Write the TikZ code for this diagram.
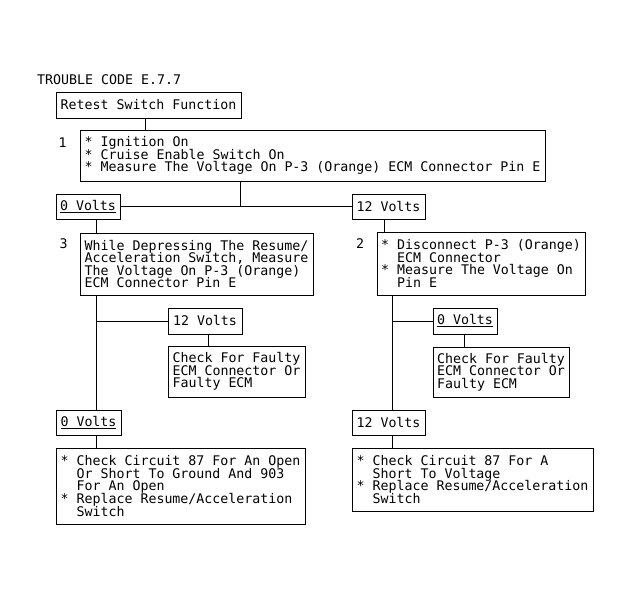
\documentclass[tikz,border=0pt]{standalone}
\usepackage{fontspec}
\newfontfamily\mono{DejaVu Sans Mono}
\newcommand\ind{\hphantom{**}}
\newcommand\uln[1]{\setbox0\hbox{#1}\rlap{\rule[-2.2pt]{\wd0}{0.9pt}}\box0}
\newcommand\monofont{\mono\fontsize{13.28}{12.6}\selectfont\lineskiplimit=-100pt\relax\lineskip=0pt\relax}
\begin{document}
\begin{tikzpicture}[x=1pt,y=-1pt,
  every node/.style={font=\monofont, inner sep=0pt, text=black},
  bx/.style={draw, line width=1pt, align=left},
  conn/.style={draw, line width=1pt}]
\useasboundingbox[fill=white] (0,0) rectangle (631,600);

% labels
\node[anchor=base west] (title) at (37,84) {TROUBLE CODE E.7.7};
\node[anchor=base west] (n1) at (58.5,147) {1};
\node[anchor=base west] (n3) at (59.5,248) {3};
\node[anchor=base west] (n2) at (356,248.5) {2};

% boxes
\node[bx, minimum width=185, minimum height=26] (retest) at (148.5,105) {Retest Switch Function};
\node[bx, minimum width=465, minimum height=51] (box1) at (312.5,155.5)
  {* Ignition On\\* Cruise Enable Switch On\\* Measure The Voltage On P-3 (Orange) ECM Connector Pin E};
\node[bx, minimum width=64, minimum height=25] (v0a) at (88,206.5) {\uln{0 Volts}};
\node[bx, minimum width=73, minimum height=25] (v12a) at (388.5,206.5) {12 Volts};
\node[bx, minimum width=233, minimum height=62] (box3) at (196.5,264)
  {While Depressing The Resume/\\Acceleration Switch, Measure\\The Voltage On P-3 (Orange)\\ECM Connector Pin E};
\node[bx, minimum width=208, minimum height=63] (box2) at (481,263.5)
  {* Disconnect P-3 (Orange)\\\ind ECM Connector\\* Measure The Voltage On\\\ind Pin E};
\node[bx, minimum width=74, minimum height=26] (v12b) at (205,321) {12 Volts};
\node[bx, minimum width=137, minimum height=51] (chkL) at (236.5,371.5)
  {Check For Faulty\\ECM Connector Or\\Faulty ECM};
\node[bx, minimum width=64, minimum height=26] (v0b) at (465,321) {\uln{0 Volts}};
\node[bx, minimum width=136, minimum height=50] (chkR) at (501,372)
  {Check For Faulty\\ECM Connector Or\\Faulty ECM};
\node[bx, minimum width=65, minimum height=25] (v0c) at (88.5,422.5) {\uln{0 Volts}};
\node[bx, minimum width=249, minimum height=76] (chkLL) at (180.5,486)
  {* Check Circuit 87 For An Open\\\ind Or Short To Ground And 903\\\ind For An Open\\* Replace Resume/Acceleration\\\ind Switch};
\node[bx, minimum width=73, minimum height=25] (v12c) at (388.5,422.5) {12 Volts};
\node[bx, minimum width=241, minimum height=63] (chkLR) at (472.5,479.5)
  {* Check Circuit 87 For A\\\ind Short To Voltage\\* Replace Resume/Acceleration\\\ind Switch};

% junction columns
\coordinate (cT) at (145,0);
\coordinate (j1) at (240.7,206.5);
\coordinate (cA) at (384,0);
\coordinate (cL) at (96.7,0);
\coordinate (cR) at (392.5,0);
\coordinate (cM) at (208,0);
\coordinate (cN) at (464,0);

% connectors
\path[conn] (retest.south -| cT) -- (box1.north -| cT);
\path[conn] (box1.south -| j1) -- (j1);
\path[conn] (v0a.east) -- (v12a.west);
\path[conn] (v12a.south -| cA) -- (box2.north -| cA);
\path[conn] (v0a.south -| cL) -- (box3.north -| cL);
\path[conn] (box3.south -| cL) -- (v0c.north -| cL);
\path[conn] (v12b.west -| cL) -- (v12b.west);
\path[conn] (v12b.south -| cM) -- (chkL.north -| cM);
\path[conn] (v0c.south -| cL) -- (chkLL.north -| cL);
\path[conn] (box2.south -| cR) -- (v12c.north -| cR);
\path[conn] (v0b.west -| cR) -- (v0b.west);
\path[conn] (v0b.south -| cN) -- (chkR.north -| cN);
\path[conn] (v12c.south -| cR) -- (chkLR.north -| cR);
\end{tikzpicture}
\end{document}
